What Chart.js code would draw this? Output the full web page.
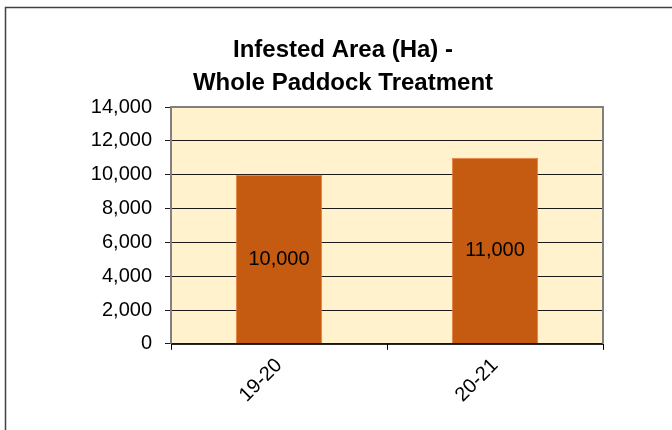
<!DOCTYPE html>
<html lang="en">
<head>
  <meta charset="UTF-8">
  <title>Infested Area (Ha) - Whole Paddock Treatment</title>
  <script src="https://cdn.jsdelivr.net/npm/chart.js"></script>
  <style>
    body {
      margin: 0;
      background-color: #ffffff;
    }
    #areaChart {
      display: block;
    }
  </style>
</head>
<body>
  <canvas id="areaChart" width="672" height="430"></canvas>

  <script>
    // data
    const seasons = ["19-20", "20-21"];
    const infestedHa = [10000, 11000];
    const yTicks = [0, 2000, 4000, 6000, 8000, 10000, 12000, 14000];

    const fontFamily = "'Liberation Sans', Arial, sans-serif";

    // cream plot background + grey frame, outer chart border
    const frame = {
      id: "frame",
      beforeDraw(chart) {
        const { ctx, chartArea: a } = chart;
        ctx.save();
        ctx.fillStyle = "#fff2cc";
        ctx.fillRect(a.left, a.top, a.right - a.left, a.bottom - a.top);
        ctx.restore();
      },
      afterDatasetsDraw(chart) {
        const { ctx, chartArea: a } = chart;
        ctx.save();
        ctx.strokeStyle = "#808080";
        ctx.lineWidth = 2;
        ctx.beginPath();
        ctx.moveTo(a.left, a.bottom);
        ctx.lineTo(a.left, a.top);
        ctx.lineTo(a.right, a.top);
        ctx.lineTo(a.right, a.bottom);
        ctx.stroke();
        ctx.strokeStyle = "#000000";
        ctx.lineWidth = 1;
        ctx.beginPath();
        ctx.moveTo(a.left, a.bottom + 0.5);
        ctx.lineTo(a.right, a.bottom + 0.5);
        ctx.stroke();
        // outer border
        ctx.strokeStyle = "#404040";
        ctx.lineWidth = 1.5;
        ctx.beginPath();
        ctx.moveTo(5.5, chart.height);
        ctx.lineTo(5.5, 7.5);
        ctx.lineTo(chart.width, 7.5);
        ctx.stroke();
        ctx.restore();
      }
    };

    // value labels in the middle of each bar
    const barLabels = {
      id: "barLabels",
      afterDatasetsDraw(chart) {
        const { ctx } = chart;
        ctx.save();
        ctx.font = "20px " + fontFamily;
        ctx.fillStyle = "#000000";
        ctx.textAlign = "center";
        ctx.textBaseline = "middle";
        chart.getDatasetMeta(0).data.forEach((bar, i) => {
          const v = chart.data.datasets[0].data[i];
          ctx.fillText(v.toLocaleString("en-US"), bar.x, (bar.y + bar.base) / 2);
        });
        ctx.restore();
      }
    };

    new Chart(document.getElementById("areaChart"), {
      type: "bar",
      data: {
        labels: seasons,
        datasets: [{
          label: "Infested Area (Ha)",
          data: infestedHa,
          backgroundColor: "#c55a11",
          borderColor: "#e8803f",
          borderWidth: 1,
          barPercentage: 0.4,
          categoryPercentage: 1.0
        }]
      },
      options: {
        responsive: false,
        animation: false,
        layout: { padding: { left: 83, right: 69, top: 34, bottom: 19 } },
        plugins: {
          legend: { display: false },
          tooltip: { enabled: false },
          title: {
            display: true,
            text: ["Infested Area (Ha) -", "Whole Paddock Treatment"],
            color: "#000000",
            font: { family: fontFamily, size: 24, weight: "bold", lineHeight: 1.375 },
            padding: { top: 0, bottom: 7 }
          }
        },
        scales: {
          x: {
            grid: { display: true, drawOnChartArea: false, color: "#000000", tickLength: 6, offset: true },
            border: { display: false },
            ticks: {
              color: "#000000",
              font: { family: fontFamily, size: 20 },
              minRotation: 45,
              maxRotation: 45,
              padding: 4
            }
          },
          y: {
            min: 0,
            max: 14000,
            afterBuildTicks(scale) {
              scale.ticks = yTicks.map(v => ({ value: v }));
            },
            afterFit(scale) {
              scale.width = 88;
            },
            grid: { color: "#1a1a1a", tickLength: 6 },
            border: { display: false },
            ticks: {
              color: "#000000",
              font: { family: fontFamily, size: 20 },
              padding: 13,
              callback: v => v.toLocaleString("en-US")
            }
          }
        }
      },
      plugins: [frame, barLabels]
    });
  </script>
</body>
</html>
